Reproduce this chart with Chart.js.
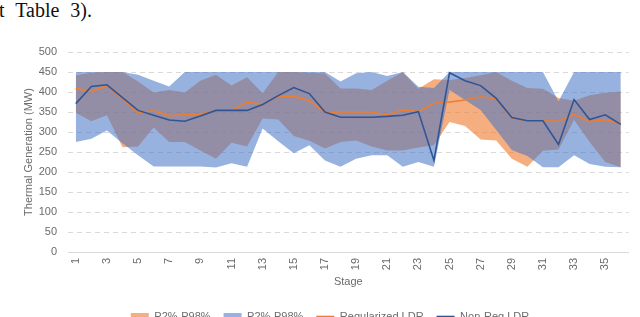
<!DOCTYPE html>
<html>
<head>
<meta charset="utf-8">
<script src="https://cdn.jsdelivr.net/npm/chart.js@4.4.1/dist/chart.umd.min.js"></script>
<style>
  html, body { margin: 0; padding: 0; background: #fff; width: 640px; height: 317px; overflow: hidden; }
  #cap { position: absolute; left: -1px; top: -1px; font-family: "Liberation Serif", serif; font-size: 20px; color: #111; word-spacing: 6px; white-space: nowrap; }
  #wrap { position: absolute; left: 0; top: 0; width: 640px; height: 332px; }
</style>
</head>
<body>
<div id="cap">t Table 3).</div>
<div id="wrap"><canvas id="chart"></canvas></div>
<script>
// stages on the x axis
const stages = ['1','2','3','4','5','6','7','8','9','10','11','12','13','14','15','16','17','18',
                '19','20','21','22','23','24','25','26','27','28','29','30','31','32','33','34','35','36'];

// Regularized LDR (orange line)
const regLdr = [409, 401, 415, 383, 348, 353, 341, 343, 344, 353, 353, 375, 369, 389, 389, 378, 349, 350,
                350, 350, 343, 355, 351, 372, 375, 380, 388, 383, 334, 328, 328, 327, 344, 326, 331, 321];
// Non-Reg LDR (dark blue line)
const nonRegLdr = [371, 414, 418, 386, 354, 342, 330, 327, 340, 354, 354, 354, 369, 391, 411, 396, 350, 337,
                   337, 337, 339, 342, 351, 229, 448, 428, 416, 384, 336, 328, 328, 269, 381, 331, 343, 319];

// P2%-P98% band, regularized (orange)
const regLow  = [348, 327, 342, 262, 264, 311, 275, 275, 254, 233, 273, 264, 334, 331, 290, 278, 259, 275,
                 279, 264, 254, 254, 261, 267, 325, 315, 281, 279, 233, 213, 253, 256, 330, 275, 225, 212];
const regHigh = [442, 448, 450, 450, 426, 399, 405, 399, 428, 443, 416, 437, 397, 450, 450, 448, 446, 409,
                 409, 405, 428, 450, 408, 432, 430, 435, 442, 450, 428, 410, 408, 385, 378, 392, 398, 401];

// P2%-P98% band, non-regularized (blue)
const nonRegLow  = [275, 283, 304, 272, 242, 214, 214, 214, 214, 211, 222, 213, 309, 277, 247, 267, 229, 213,
                    233, 242, 242, 213, 225, 213, 405, 380, 355, 305, 255, 240, 212, 212, 242, 220, 213, 212];
const nonRegHigh = [450, 450, 450, 450, 443, 428, 414, 450, 450, 450, 450, 450, 450, 450, 450, 450, 450, 426,
                    447, 450, 440, 450, 413, 410, 450, 450, 450, 450, 450, 450, 450, 377, 450, 450, 450, 450];

const yTicks = { min: 0, max: 500, step: 50 };

const FONT = '"Liberation Sans", Arial, sans-serif';
const TXT = '#6b6b6b';
const GRID = '#d9d9d9';

function bandLow(data, order) {
    return { data, order, fill: false, borderColor: 'transparent', backgroundColor: 'transparent',
             borderWidth: 0, pointRadius: 0, pointHoverRadius: 0 };
}

function bandHigh(data, order, color) {
    return { label: 'P2%-P98%', data, order, fill: '-1', borderColor: 'transparent', backgroundColor: color,
             borderWidth: 0, pointRadius: 0, pointHoverRadius: 0, pointStyle: 'rect' };
}

new Chart(document.getElementById('chart'), {
    type: 'line',
    data: {
        labels: stages,
        datasets: [
            bandLow(regLow, 6),
            bandHigh(regHigh, 5, 'rgba(237,125,49,0.62)'),
            bandLow(nonRegLow, 4),
            bandHigh(nonRegHigh, 3, 'rgba(68,114,196,0.55)'),
            { label: 'Regularized LDR', data: regLdr, order: 2, borderColor: '#ED7D31', backgroundColor: '#ED7D31',
              borderWidth: 1.6, pointRadius: 0, fill: false, tension: 0, pointStyle: 'line' },
            { label: 'Non-Reg LDR', data: nonRegLdr, order: 1, borderColor: '#2F5597', backgroundColor: '#2F5597',
              borderWidth: 1.6, pointRadius: 0, fill: false, tension: 0, pointStyle: 'line' }
        ]
    },
    options: {
        responsive: true,
        maintainAspectRatio: false,
        animation: false,
        layout: { padding: { top: 52, right: 0, left: 20, bottom: 0 } },
        plugins: {
            tooltip: { enabled: false },
            legend: {
                position: 'bottom',
                labels: {
                    font: { family: FONT, size: 11 },
                    color: TXT,
                    usePointStyle: true,
                    pointStyleWidth: 18,
                    boxHeight: 7,
                    padding: 13,
                    filter: item => !!item.text,
                    sort: (a, b) => a.datasetIndex - b.datasetIndex
                }
            }
        },
        scales: {
            x: {
                offset: true,
                grid: { display: false, drawTicks: false },
                border: { display: true, color: GRID, width: 1 },
                afterFit: s => { s.height = 46; },
                ticks: {
                    autoSkip: false, minRotation: 90, maxRotation: 90, padding: 6,
                    font: { family: FONT, size: 11 }, color: TXT,
                    callback: function (v, i) { return i % 2 === 0 ? this.getLabelForValue(v) : ''; }
                },
                title: { display: true, text: 'Stage', font: { family: FONT, size: 11 }, color: TXT,
                         padding: { top: 0, bottom: 9 } }
            },
            y: {
                min: yTicks.min, max: yTicks.max,
                grid: { color: GRID, drawTicks: false },
                border: { display: false, dash: [5, 4] },
                afterFit: s => { s.width = 48; },
                ticks: { stepSize: yTicks.step, padding: 11, font: { family: FONT, size: 11 }, color: TXT },
                title: { display: true, text: 'Thermal Generation (MW)', font: { family: FONT, size: 11 }, color: TXT,
                         padding: { top: 2, bottom: 0 } }
            }
        }
    }
});
</script>
</body>
</html>
